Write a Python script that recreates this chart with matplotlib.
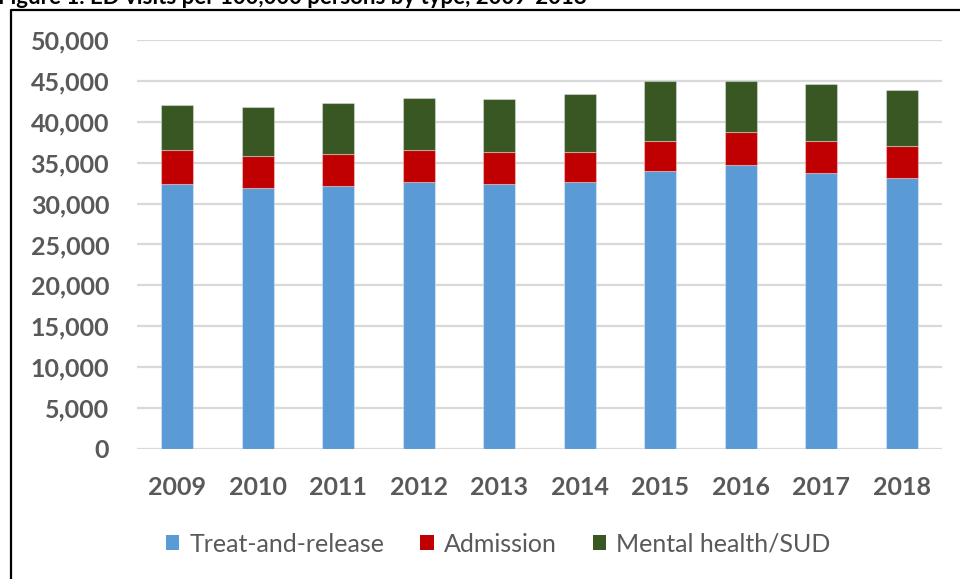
import matplotlib
matplotlib.use("Agg")
import matplotlib.pyplot as plt
from matplotlib.lines import Line2D
from matplotlib.patches import Patch
from matplotlib.ticker import FuncFormatter

years = ["2009", "2010", "2011", "2012", "2013", "2014", "2015", "2016", "2017", "2018"]
treat_release = [32400, 31900, 32150, 32650, 32400, 32650, 34000, 34750, 33700, 33150]
admission = [4150, 3900, 3900, 3950, 3900, 3700, 3650, 3950, 3950, 3950]
mental_sud = [5500, 6000, 6250, 6250, 6500, 7050, 7300, 6250, 7000, 6750]
series_names = ["Treat-and-release", "Admission", "Mental health/SUD"]
colors = ["#5B9BD5", "#C00000", "#385723"]
title = "Figure 1. ED visits per 100,000 persons by type, 2009-2018"

W, H = 960, 579
fig = plt.figure(figsize=(9.6, 5.79), dpi=100)
fig.patch.set_facecolor("white")

ax = fig.add_axes([137 / W, 1 - 449 / H, (942 - 137) / W, (449 - 40) / H])

x = list(range(len(years)))
bottom = [0] * len(years)
for vals, col, name in zip([treat_release, admission, mental_sud], colors, series_names):
    ax.bar(x, vals, width=0.40, bottom=bottom, color=col, edgecolor=(1, 1, 1, 0.35),
           linewidth=0.8, label=name, zorder=3)
    bottom = [b + v for b, v in zip(bottom, vals)]

ax.set_xlim(-0.5, len(years) - 0.5)
ax.set_ylim(0, 50000)
ax.set_yticks(range(0, 50001, 5000))
ax.yaxis.set_major_formatter(FuncFormatter(lambda v, p: f"{int(v):,}"))
ax.set_xticks(x)
ax.set_xticklabels(years)
ax.grid(axis="y", color="#D9D9D9", linewidth=1.6, zorder=0)
ax.set_axisbelow(True)
for s in ax.spines.values():
    s.set_visible(False)
ax.tick_params(axis="both", length=0, labelcolor="#595959")
ax.tick_params(axis="y", pad=20)
ax.tick_params(axis="x", pad=19.5)
for lab in ax.get_yticklabels() + ax.get_xticklabels():
    lab.set_fontfamily("Lato")
    lab.set_fontweight("bold")
    lab.set_fontsize(18)

handles = [Patch(facecolor=c, edgecolor="none") for c in colors]
leg = fig.legend(handles, series_names, loc="center", bbox_to_anchor=(0.519, 1 - 544 / H),
                 ncol=3, frameon=False, handlelength=0.55, handleheight=0.55,
                 handletextpad=0.4, columnspacing=1.43,
                 prop={"family": "Lato", "size": 18})
for t in leg.get_texts():
    t.set_color("#595959")

# outer frame (partially cut, as in the reference)
fig.add_artist(Line2D([10.5 / W, 10.5 / W, 1.01], [-0.01, 1 - 10 / H, 1 - 10 / H],
                      transform=fig.transFigure, color="black", linewidth=1.6))

# title partly cut off at the top edge, as in the reference
fig.text(-2 / W, 1 - 4 / H, title, ha="left", va="baseline", fontsize=16,
         fontweight="bold", family="Lato", color="black")

fig.savefig("out.png", dpi=100)
